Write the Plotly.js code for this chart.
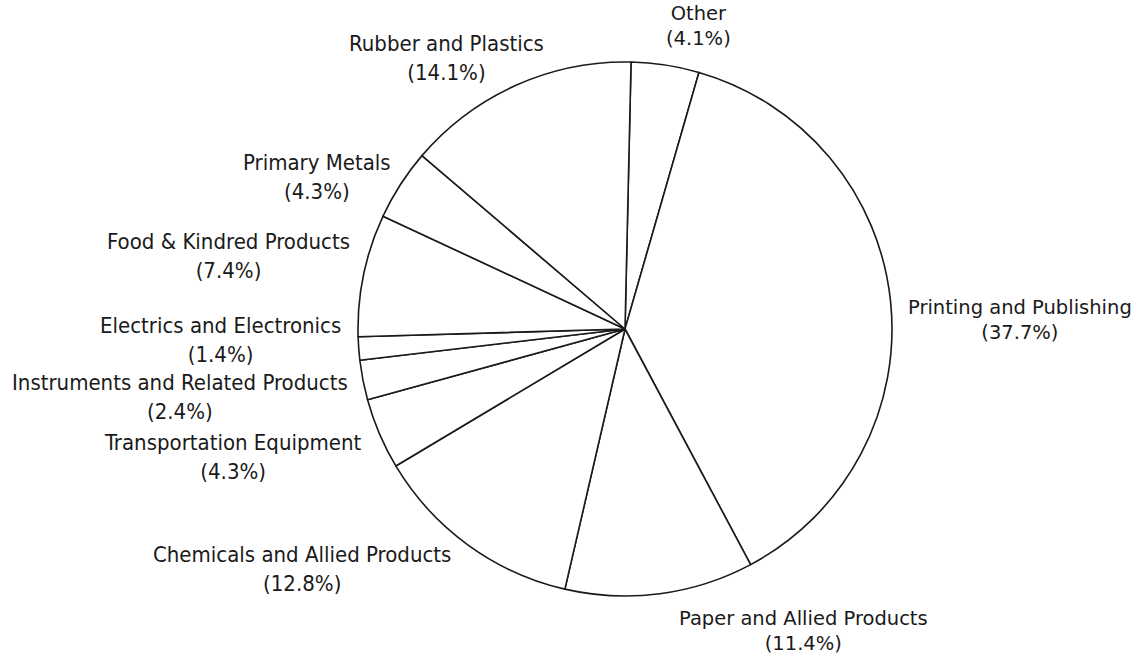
<!DOCTYPE html>
<html>
<head>
<meta charset="utf-8">
<script src="https://cdn.plot.ly/plotly-3.0.1.min.js"></script>
<style>html,body{margin:0;padding:0;background:#fff;}#chart{width:1143px;height:660px;}</style>
</head>
<body>
<div id="chart"></div>
<script>
var categories = ["Other", "Printing and Publishing", "Paper and Allied Products", "Chemicals and Allied Products", "Transportation Equipment", "Instruments and Related Products", "Electrics and Electronics", "Food & Kindred Products", "Primary Metals", "Rubber and Plastics"];
var shares = [4.1, 37.7, 11.4, 12.8, 4.3, 2.4, 1.4, 7.4, 4.3, 14.1];

// label placement (layout only), in pixels of the 1143x660 page
var labelPos = [[699, 26, "wide"], [1020, 320, "wide"], [803, 631, "wide"], [302, 569, "narrow"], [233, 457, "narrow"], [180, 397, "narrow"], [220, 340, "narrow"], [228, 256, "narrow"], [317, 177, "narrow"], [446, 58, "narrow"]];

var W = 1143, H = 660;
var annotations = categories.map(function (c, i) {
  var p = labelPos[i];
  var wide = p[2] === "wide";
  return {
    xref: "paper", yref: "paper",
    x: p[0] / W, y: 1 - p[1] / H,
    xanchor: "center", yanchor: "middle",
    showarrow: false, align: "center",
    text: c + "<br>(" + shares[i].toFixed(1) + "%)",
    font: {
      family: wide ? "DejaVu Sans, sans-serif" : "DejaVu Sans Condensed, sans-serif",
      size: wide ? 19.5 : 22,
      color: "#1a1a1a"
    }
  };
});

var trace = {
  type: "pie",
  labels: categories,
  values: shares,
  sort: false,
  direction: "clockwise",
  rotation: 1.3,
  textinfo: "none",
  hoverinfo: "label+percent",
  marker: { colors: categories.map(function () { return "#ffffff"; }), line: { color: "#1a1a1a", width: 1.6 } },
  domain: { x: [358 / W, 892 / W], y: [1 - 596 / H, 1 - 62 / H] },
  showlegend: false
};

var layout = {
  width: W, height: H,
  margin: { l: 0, r: 0, t: 0, b: 0 },
  paper_bgcolor: "#ffffff",
  plot_bgcolor: "#ffffff",
  showlegend: false,
  annotations: annotations
};

Plotly.newPlot("chart", [trace], layout, { displayModeBar: false, staticPlot: true });
</script>
</body>
</html>
